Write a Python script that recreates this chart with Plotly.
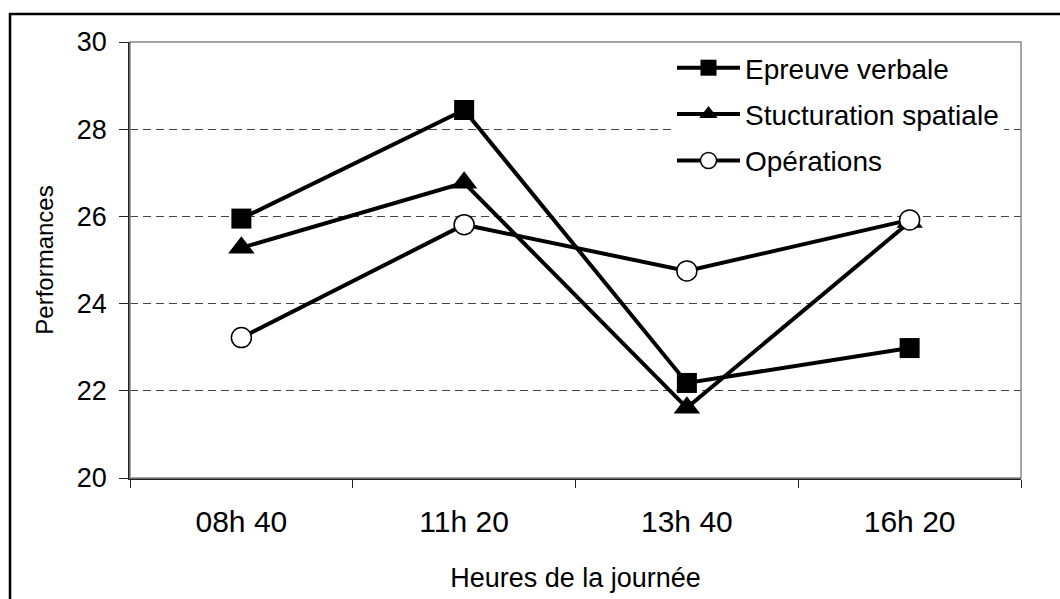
import plotly.graph_objects as go

categories = ["08h 40", "11h 20", "13h 40", "16h 20"]
epreuve_verbale = [25.95, 28.44, 22.18, 22.98]
structuration_spatiale = [25.28, 26.77, 21.61, 25.87]
operations = [23.22, 25.81, 24.75, 25.92]

series_names = ["Epreuve verbale", "Stucturation spatiale", "Opérations"]
y_ticks = [20, 22, 24, 26, 28, 30]

FONT = "Arial, Liberation Sans, sans-serif"

fig = go.Figure()
fig.add_trace(go.Scatter(
    x=categories, y=epreuve_verbale, name=series_names[0], mode="lines+markers",
    line=dict(color="black", width=4),
    marker=dict(symbol="square", size=20, color="black"),
    legendgroup="a"))
fig.add_trace(go.Scatter(
    x=categories, y=structuration_spatiale, name=series_names[1], mode="lines+markers",
    line=dict(color="black", width=4),
    marker=dict(symbol="triangle-up", size=23, color="black"),
    legendgroup="b"))
fig.add_trace(go.Scatter(
    x=categories, y=operations, name=series_names[2], mode="lines+markers",
    line=dict(color="black", width=4),
    marker=dict(symbol="circle", size=20, color="white", line=dict(color="black", width=1.5)),
    legendgroup="c"))

L, R, T, B = 130, 1060 - 1021, 42, 599 - 478
W, H = 1060, 599
pw, ph = W - L - R, H - T - B

def px_x(p):
    return (p - L) / pw

def px_y(p):
    return (H - B - p) / ph

fig.update_layout(
    width=W, height=H,
    margin=dict(l=L, r=R, t=T, b=B, pad=0, autoexpand=False),
    paper_bgcolor="white", plot_bgcolor="white",
    font=dict(family=FONT, color="black", size=27),
    showlegend=True,
    legend=dict(
        x=px_x(672), y=px_y(43), xanchor="left", yanchor="top",
        bgcolor="white", borderwidth=0,
        font=dict(size=28, family=FONT),
        itemwidth=63, tracegroupgap=7,
    ),
    xaxis=dict(
        type="category", range=[-0.5, 3.5], automargin=False,
        tickson="boundaries", ticks="outside", ticklen=8, tickwidth=1, tickcolor="#222",
        showline=True, linecolor="#222", linewidth=1.5,
        showgrid=False, zeroline=False,
        tickfont=dict(size=30, family=FONT), ticklabelstandoff=16,
        title=dict(text="Heures de la journée", font=dict(size=27, family=FONT), standoff=31),
    ),
    yaxis=dict(
        range=[20, 30], tickvals=y_ticks, ticktext=[str(v) for v in y_ticks],
        automargin=False,
        ticks="outside", ticklen=9, tickwidth=1, tickcolor="#222",
        showline=True, linecolor="#222", linewidth=1.5,
        showgrid=True, gridcolor="#444", gridwidth=1, griddash="8px,5px",
        zeroline=False,
        tickfont=dict(size=27, family=FONT), ticklabelstandoff=7,
        title=dict(text="Performances", font=dict(size=24, family=FONT), standoff=16),
    ),
    shapes=[
        dict(type="rect", xref="paper", yref="paper", x0=0, x1=1, y0=0, y1=1,
             line=dict(color="#888", width=1.5), layer="above"),
        dict(type="rect", xref="paper", yref="paper",
             x0=px_x(10), x1=px_x(1070), y0=px_y(14), y1=px_y(610),
             line=dict(color="black", width=2.5), layer="above"),
    ],
)

fig.write_html("out.html", config={"displayModeBar": False},
               post_script="document.body.style.margin='0';")
